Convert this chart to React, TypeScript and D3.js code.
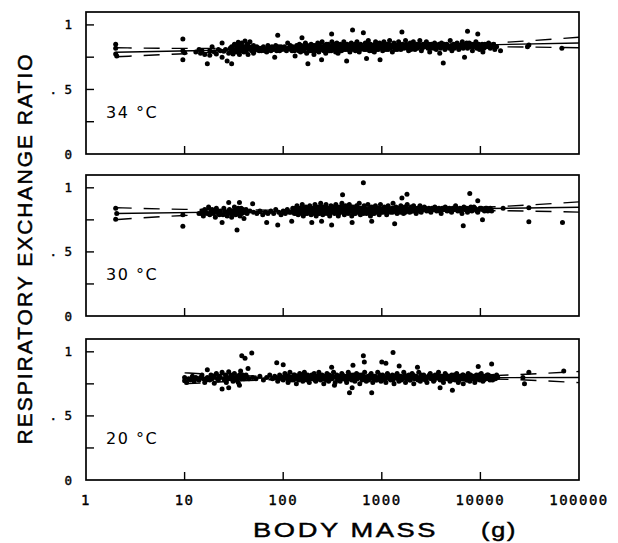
import React from "react";
import * as d3 from "d3";

// ---------- data ----------
const panelLabels = ["34 °C", "30 °C", "20 °C"];
const xTickValues = [1, 10, 100, 1000, 10000, 100000];
const xTickLabels = ["1", "10", "100", "1000", "10000", "100000"];
const yTickValues = [0.25, 0.5, 0.75, 1];
const yLabelValues = [0, 0.5, 1];
const yLabelTexts = ["0", ". 5", "1"];

const points34: [number, number][] = [
  [2, .85], [2, .82], [2, .775], [2.05, .76],
  [9.6, .89], [9.6, .80], [9.6, .73], [10, .785],
  [13, .79], [14, .81], [14.5, .78], [15, .80], [16, .77], [17, .70], [18, .80], [18, .765], [19, .83], [20, .79], [21, .775], [22, .81], [23, .80], [24, .86], [24, .75], [25, .795], [26, .81], [27, .72], [28, .78], [29, .82], [30, .70],
  [30, .80], [30, .83], [31, .775], [32, .79], [32, .85], [33, .81], [34, .82], [34, .79], [35, .865], [36, .84], [36, .77], [37, .80], [38, .81], [38, .86], [39, .83], [40, .79], [40, .83], [41, .875], [42, .80], [43, .85], [43, .81], [44, .77], [45, .83], [46, .82], [46, .87], [48, .80], [50, .78], [50, .84], [52, .82], [55, .81], [58, .82], [60, .80], [63, .83], [66, .81], [68, .79], [70, .84], [72, .82], [75, .80], [77, .83], [80, .81], [82, .75], [84, .84], [88, .92], [88, .815], [92, .80], [95, .83],
  [100, .82], [105, .81], [111, .86], [115, .82], [120, .81], [125, .83], [130, .80], [132, .76], [137, .84], [141, .82], [146, .85], [150, .79], [155, .90], [158, .83], [163, .81], [168, .86], [173, .78], [178, .70], [180, .83], [186, .80], [192, .85], [198, .82], [205, .77], [210, .84], [217, .81], [224, .86], [230, .79], [236, .83], [245, .73], [248, .87], [255, .81], [262, .84], [270, .78], [278, .82], [286, .85], [295, .80], [303, .83], [310, .93], [312, .87], [320, .81], [330, .84], [340, .79], [350, .86], [360, .78], [368, .82], [380, .85], [390, .80], [400, .84], [412, .87], [425, .81], [440, .72], [445, .85], [460, .83], [475, .79], [490, .86], [505, .96], [510, .82], [525, .84], [540, .80], [560, .87], [575, .82], [590, .79], [610, .85], [630, .83], [650, .94], [660, .81], [680, .86], [700, .74], [705, .83], [730, .88], [750, .80], [770, .85], [790, .82], [815, .84], [840, .79], [865, .87], [890, .83], [920, .81], [950, .86], [960, .73], [985, .84],
  [1020, .80], [1050, .87], [1080, .83], [1120, .85], [1160, .81], [1200, .88], [1240, .83], [1280, .79], [1330, .86], [1380, .84], [1430, .81], [1480, .87], [1530, .83], [1600, .945], [1620, .85], [1680, .82], [1740, .88], [1800, .84], [1870, .80], [1940, .86], [2010, .83], [2090, .87], [2170, .81], [2250, .85], [2340, .83], [2430, .88], [2520, .80], [2620, .85], [2720, .83], [2830, .87], [2940, .82], [3060, .79], [3180, .85], [3300, .83], [3430, .86], [3570, .81], [3720, .84], [3870, .78], [4030, .86], [4200, .705], [4200, .83], [4370, .81], [4550, .85], [4740, .83], [4940, .88], [5140, .80], [5350, .85], [5570, .83], [5800, .86], [6040, .81], [6290, .84], [6550, .87], [6900, .75], [6820, .83], [7100, .85], [7400, .95], [7400, .82], [7700, .86], [8000, .84], [8300, .80], [8650, .85], [9000, .87], [9400, .93], [9400, .83], [9800, .81],
  [10200, .84], [10600, .79], [11100, .85], [11600, .83], [12100, .86], [12600, .82], [13200, .84], [14000, .81], [14600, .83], [16000, .80], [30000, .83], [31000, .845], [67000, .82],
];
const points34Core: [number, number][] = [
  [31, .81], [33, .84], [35, .80], [37, .83], [39, .80], [41, .82], [44, .84], [47, .81], [49, .83], [51, .80], [54, .83], [57, .80], [61, .82], [65, .80], [69, .82], [74, .81], [79, .82], [86, .80], [90, .83], [97, .81],
  [103, .83], [108, .80], [113, .82], [118, .84], [123, .80], [128, .82], [134, .81], [139, .83], [144, .80], [148, .82], [153, .84], [161, .80], [166, .83], [171, .82], [176, .84], [183, .81], [189, .83], [195, .80], [201, .84], [207, .82], [214, .80], [220, .83], [227, .82], [233, .85], [240, .81], [251, .83], [258, .80], [266, .83], [274, .85], [282, .81], [290, .83], [299, .82], [307, .80], [316, .84], [325, .82], [335, .85], [345, .81], [355, .83], [364, .84], [374, .80], [385, .83], [395, .82], [406, .81], [418, .83], [432, .84], [452, .81], [467, .82], [482, .84], [497, .81], [517, .83], [532, .85], [550, .82], [568, .84], [583, .83], [600, .81], [620, .84], [640, .82], [670, .83], [692, .81], [715, .85], [740, .83], [760, .82], [780, .84], [800, .80], [827, .83], [852, .85], [877, .81], [905, .84], [935, .82], [970, .83],
  [1000, .85], [1035, .82], [1065, .84], [1100, .81], [1140, .83], [1180, .85], [1220, .82], [1260, .84], [1305, .83], [1355, .81], [1405, .84], [1455, .83], [1505, .85], [1560, .81], [1650, .84], [1710, .83], [1770, .85], [1835, .82], [1905, .84], [1975, .81], [2050, .85], [2130, .83], [2210, .84], [2295, .82], [2385, .85], [2475, .83], [2570, .82], [2670, .84], [2775, .85], [2885, .83], [3000, .85], [3120, .82], [3240, .84], [3365, .82], [3500, .84], [3645, .83], [3795, .85], [3950, .82], [4115, .84], [4285, .85], [4460, .83], [4645, .84], [4840, .82], [5040, .84], [5245, .83], [5460, .82], [5685, .85], [5920, .84], [6165, .83], [6420, .85], [6690, .82], [6960, .84], [7250, .86], [7550, .84], [7850, .83], [8150, .85], [8480, .83], [8820, .84], [9200, .82], [9600, .85],
  [10000, .83], [10400, .85], [10850, .82], [11350, .84], [11850, .85], [12350, .84], [12900, .83], [13600, .85],
];

const points30: [number, number][] = [
  [2, .84], [2, .755], [2.05, .80],
  [9.6, .70], [9.6, .79],
  [14, .80], [15, .82], [15.5, .78], [16, .83], [17, .80], [17.5, .85], [18, .79], [19, .83], [20, .81], [20.5, .77], [21, .84], [22, .80], [23, .82], [24, .73], [24.5, .79], [25, .84], [26, .81], [27, .78], [28, .885], [28.5, .83], [29, .80], [30, .77], [31, .82], [32, .85], [33, .79], [34, .67], [34.5, .81], [35, .84], [36, .885], [36.5, .78], [37, .82], [38, .80], [39, .83], [40, .76], [41, .81], [43, .80], [46, .82], [49, .875], [50, .81], [54, .80], [58, .82], [62, .79], [66, .81], [68, .73], [70, .80], [75, .82], [80, .80], [84, .83], [88, .71], [90, .81], [95, .79],
  [100, .82], [105, .80], [110, .83], [115, .81], [122, .74], [125, .84], [130, .80], [134, .82], [138, .86], [142, .79], [147, .84], [152, .81], [156, .87], [160, .78], [165, .83], [170, .85], [175, .80], [180, .82], [186, .86], [192, .79], [195, .73], [198, .84], [204, .81], [210, .87], [216, .78], [222, .83], [228, .85], [234, .80], [240, .88], [245, .74], [246, .82], [252, .79], [258, .85], [265, .82], [272, .87], [280, .80], [288, .84], [296, .78], [305, .86], [310, .71], [314, .82], [323, .85], [332, .80], [342, .87], [352, .83], [362, .78], [372, .85], [383, .81], [394, .88], [400, .945], [405, .82], [417, .79], [430, .86], [442, .83], [455, .80], [468, .87], [482, .82], [496, .78], [500, .73], [510, .85], [525, .83], [540, .80], [556, .86], [572, .82], [590, .88], [607, .79], [625, .84], [643, .81], [650, 1.04], [662, .86], [682, .83], [702, .80], [723, .87], [745, .82], [767, .78], [790, .74], [790, .85], [813, .83], [837, .80], [862, .86], [888, .82], [914, .84], [941, .79], [969, .87], [998, .83],
  [1030, .81], [1060, .85], [1090, .82], [1120, .79], [1160, .86], [1190, .83], [1230, .81], [1270, .84], [1300, .88], [1350, .72], [1350, .82], [1390, .85], [1430, .80], [1470, .84], [1520, .82], [1560, .86], [1600, .92], [1610, .83], [1660, .80], [1710, .85], [1760, .82], [1800, .95], [1810, .87], [1870, .83], [1920, .81], [1980, .85], [2040, .82], [2100, .86], [2170, .83], [2230, .80], [2300, .84], [2370, .82], [2440, .86], [2510, .81], [2590, .83], [2700, .85], [2850, .82], [3000, .84], [3150, .81], [3300, .83], [3450, .85], [3600, .82], [3800, .84], [4000, .80], [4200, .83], [4400, .85], [4600, .82], [4850, .84], [5100, .81], [5350, .83], [5600, .86], [5900, .82], [6200, .84], [6500, .80], [6700, .705], [6800, .85], [7100, .83], [7400, .81], [7800, .955], [7800, .84], [8200, .82], [8600, .85], [9000, .83], [9400, .90], [9400, .81], [9900, .84],
  [10500, .75], [10500, .83], [11000, .82], [11600, .84], [12200, .83], [13000, .82], [17000, .84], [31000, .845], [31000, .735], [68000, .73],
];
const points30Core: [number, number][] = [
  [15, .80], [16.5, .81], [18.5, .82], [19.5, .80], [21.5, .82], [22.5, .79], [25.5, .82], [27.5, .81], [29.5, .82], [31.5, .80], [33.5, .82], [35.5, .80], [37.5, .84], [39.5, .81], [42, .83],
  [120, .81], [127, .82], [132, .84], [136, .80], [140, .83], [145, .81], [150, .83], [154, .80], [158, .84], [163, .82], [168, .80], [172, .83], [178, .81], [183, .84], [189, .82], [195, .81], [201, .83], [207, .80], [213, .84], [219, .82], [225, .80], [231, .83], [237, .82], [243, .85], [249, .81], [255, .83], [261, .80], [268, .84], [276, .82], [284, .81], [292, .83], [300, .80], [309, .84], [318, .82], [327, .83], [337, .81], [347, .84], [357, .82], [367, .80], [377, .83], [388, .82], [399, .85], [411, .81], [423, .83], [436, .82], [448, .84], [461, .81], [475, .83], [489, .85], [503, .82], [517, .80], [532, .84], [548, .82], [564, .83], [581, .81], [598, .84], [616, .82], [634, .83], [653, .80], [672, .84], [692, .82], [712, .83], [734, .81], [756, .84], [778, .82], [801, .80], [825, .83], [850, .84], [875, .81], [901, .83], [927, .82], [955, .84], [983, .81],
  [1015, .83], [1045, .82], [1075, .84], [1105, .83], [1140, .81], [1175, .84], [1210, .82], [1250, .83], [1290, .81], [1330, .84], [1370, .83], [1410, .82], [1450, .84], [1495, .83], [1540, .81], [1585, .84], [1635, .82], [1685, .83], [1735, .81], [1785, .84], [1840, .82], [1895, .83], [1950, .84], [2010, .83], [2070, .82], [2135, .84], [2200, .83], [2265, .82], [2335, .84], [2405, .83], [2475, .82], [2550, .84], [2640, .83], [2770, .84], [2920, .83], [3070, .82], [3230, .84], [3380, .83], [3530, .84], [3700, .83], [3900, .82], [4100, .84], [4300, .83], [4500, .84], [4720, .83], [4980, .82], [5230, .84], [5480, .83], [5750, .84], [6050, .83], [6350, .82], [6650, .84], [6950, .83], [7250, .84], [7600, .83], [8000, .85], [8400, .83], [8800, .84], [9200, .82], [9650, .83],
  [10200, .84], [10800, .83], [11300, .84], [11900, .82], [12600, .84],
];

const points20: [number, number][] = [
  [10, .80], [10, .775], [10.5, .76], [11, .79], [12, .81], [12.5, .77], [13, .80], [14, .78], [15, .82], [15.5, .79], [16, .76], [17, .86], [17, .80], [18, .78], [18.5, .82], [19, .79], [20, .755], [20, .81], [21, .83], [22, .78], [23, .80], [24, .71], [24, .84], [25, .79], [26, .82], [26.5, .76], [27, .80], [28, .72], [28, .845], [29, .79], [30, .81], [31, .77], [32, .83], [33, .80], [34, .78], [35, .76], [36, .74], [36, .82], [37, .85], [38, .97], [38, .80], [40, .79], [41, .95], [42, .82], [44, .87], [45, .79], [48, .99], [49, .80], [53, .79], [58, .81], [63, .78], [68, .80], [73, .82], [78, .79], [82, .81], [86, .915], [88, .77], [92, .82], [96, .80],
  [100, .90], [100, .78], [104, .83], [108, .81], [112, .76], [117, .84], [121, .80], [126, .78], [131, .82], [136, .75], [141, .81], [147, .83], [152, .79], [158, .77], [164, .84], [170, .80], [177, .82], [184, .76], [191, .81], [198, .79], [206, .83], [214, .77], [222, .80], [230, .84], [239, .78], [248, .82], [258, .75], [268, .80], [278, .83], [289, .77], [300, .81], [310, .88], [312, .79], [324, .84], [331, .74], [337, .76], [350, .82], [364, .80], [378, .77], [393, .83], [408, .79], [424, .81], [440, .76], [457, .84], [470, .68], [475, .80], [494, .78], [500, .72], [510, .895], [513, .82], [533, .77], [554, .83], [576, .80], [598, .75], [621, .82], [645, .79], [650, .97], [665, .92], [670, .84], [696, .77], [723, .81], [751, .79], [780, .83], [790, .68], [810, .76], [842, .81], [875, .78], [909, .84], [944, .80], [981, .77],
  [1000, .92], [1020, .82], [1060, .79], [1100, .91], [1100, .76], [1140, .83], [1180, .80], [1230, .78], [1280, .82], [1300, .995], [1330, .75], [1380, .80], [1430, .83], [1490, .77], [1500, .89], [1550, .81], [1610, .79], [1670, .84], [1740, .76], [1810, .80], [1880, .82], [1950, .78], [2030, .83], [2110, .75], [2190, .81], [2280, .79], [2300, .88], [2370, .84], [2460, .77], [2560, .80], [2660, .82], [2760, .78], [2870, .76], [2980, .81], [3100, .83], [3220, .79], [3350, .77], [3480, .82], [3620, .80], [3760, .84], [3900, .72], [3910, .78], [4060, .81], [4220, .76], [4390, .83], [4560, .79], [4740, .81], [4920, .77], [5200, .70], [5120, .82], [5320, .80], [5530, .78], [5750, .83], [5970, .76], [6200, .81], [6450, .79], [6700, .75], [6700, .82], [6960, .80], [7230, .78], [7520, .83], [7810, .77], [8120, .81], [8440, .79], [8770, .76], [9110, .82], [9500, .885], [9470, .80], [9840, .78],
  [10200, .83], [10600, .77], [11000, .81], [11500, .79], [12000, .82], [12500, .78], [13000, .905], [13000, .80], [13500, .81], [14200, .79], [15000, .80], [27000, .80], [28000, .75], [31000, .84], [70000, .85],
];
const points20Core: [number, number][] = [
  [11.5, .78], [13.5, .79], [14.5, .80], [16.5, .78], [17.5, .79], [19.5, .80], [21.5, .79], [22.5, .81], [25.5, .78], [27.5, .79], [29.5, .82], [30.5, .79], [32.5, .78], [34.5, .81], [37.5, .79], [39, .82], [43, .80],
  [85, .80], [90, .79], [94, .81], [98, .79], [102, .80], [106, .82], [110, .79], [114, .81], [119, .78], [124, .80], [128, .82], [133, .79], [138, .81], [144, .78], [149, .80], [155, .82], [161, .79], [167, .81], [173, .78], [180, .80], [187, .79], [194, .82], [202, .80], [210, .78], [218, .81], [226, .79], [234, .82], [243, .80], [253, .79], [263, .81], [273, .78], [283, .80], [294, .82], [306, .79], [318, .81], [343, .80], [357, .78], [371, .81], [385, .79], [400, .82], [416, .80], [432, .78], [448, .81], [465, .79], [484, .82], [503, .80], [523, .78], [543, .81], [565, .79], [587, .82], [610, .80], [633, .78], [657, .81], [683, .79], [709, .80], [737, .78], [765, .82], [795, .80], [826, .79], [858, .81], [892, .78], [926, .80], [962, .82],
  [1000, .79], [1040, .81], [1080, .78], [1120, .80], [1160, .82], [1205, .79], [1255, .81], [1305, .78], [1355, .80], [1405, .82], [1460, .79], [1520, .81], [1580, .78], [1640, .80], [1705, .82], [1775, .79], [1845, .81], [1915, .78], [1990, .80], [2070, .82], [2150, .79], [2235, .81], [2325, .78], [2415, .80], [2510, .82], [2610, .79], [2710, .81], [2815, .78], [2925, .80], [3040, .82], [3160, .79], [3285, .81], [3415, .78], [3550, .80], [3690, .82], [3835, .79], [3985, .81], [4140, .78], [4305, .80], [4475, .82], [4650, .79], [4830, .81], [5020, .78], [5220, .80], [5430, .82], [5640, .79], [5860, .81], [6090, .78], [6330, .80], [6580, .82], [6830, .79], [7100, .81], [7380, .78], [7670, .80], [7960, .82], [8280, .79], [8600, .81], [8940, .78], [9290, .80], [9650, .82],
  [10000, .79], [10400, .81], [10800, .78], [11250, .80], [11700, .82], [12200, .79], [12700, .81], [13300, .78], [13900, .80], [14600, .82],
];

// regression lines (endpoints) and confidence bands
const fit34: [number, number][] = [[2, .788], [100000, .860]];
const fit30: [number, number][] = [[2, .800], [100000, .848]];
const fit20: [number, number][] = [[10, .794], [100000, .800]];

const band34Mass = [2, 10, 100, 1000, 10000, 100000];
const band34Upper = [.823, .818, .820, .833, .855, .905];
const band34Lower = [.753, .777, .806, .823, .831, .823];

const band30Mass = [2, 10, 100, 1000, 10000, 100000];
const band30Upper = [.845, .832, .826, .833, .848, .890];
const band30Lower = [.752, .784, .805, .817, .822, .810];

const band20Mass = [10, 30, 100, 1000, 10000, 100000];
const band20Upper = [.836, .818, .805, .803, .812, .847];
const band20Lower = [.750, .770, .785, .795, .790, .760];

const panels = [
  { label: panelLabels[0], points: points34.concat(points34Core), fit: fit34, bandMass: band34Mass, upper: band34Upper, lower: band34Lower },
  { label: panelLabels[1], points: points30.concat(points30Core), fit: fit30, bandMass: band30Mass, upper: band30Upper, lower: band30Lower },
  { label: panelLabels[2], points: points20.concat(points20Core), fit: fit20, bandMass: band20Mass, upper: band20Upper, lower: band20Lower },
];

// ---------- layout ----------
const W = 618;
const H = 543;
const X0 = 86;
const X1 = 579;
const panelTop = [12, 175, 339];
const panelBottom = [154, 316, 480];

const monoFont = "'DejaVu Sans Mono', 'Liberation Mono', monospace";
const titleFont = "'Liberation Sans', Arial, sans-serif";

export default function App() {
  const x = d3.scaleLog().domain([1, 100000]).range([X0, X1]);

  return (
    <div style={{ position: "absolute", left: 0, top: 0 }}>
      <svg width={W} height={H} viewBox={`0 0 ${W} ${H}`} style={{ display: "block", background: "#fff" }}>
        {panels.map((p, i) => {
          const y = d3.scaleLinear().domain([0, 1.1]).range([panelBottom[i], panelTop[i]]);
          const line = d3.line<[number, number]>().x(d => x(d[0])).y(d => y(d[1]));
          const bandLine = d3.line<[number, number]>().x(d => x(d[0])).y(d => y(d[1])).curve(d3.curveMonotoneX);
          const up = p.bandMass.map((m, k) => [m, p.upper[k]] as [number, number]);
          const lo = p.bandMass.map((m, k) => [m, p.lower[k]] as [number, number]);
          return (
            <g key={i}>
              <rect x={X0} y={panelTop[i]} width={X1 - X0} height={panelBottom[i] - panelTop[i]}
                fill="none" stroke="#000" strokeWidth={1.7} />
              {yTickValues.map(v => (
                <line key={v} x1={X0} x2={X0 + 8} y1={y(v)} y2={y(v)} stroke="#000" strokeWidth={1.4} />
              ))}
              {xTickValues.slice(1, 5).map(v => (
                <line key={v} x1={x(v)} x2={x(v)} y1={panelBottom[i]} y2={panelBottom[i] - 8} stroke="#000" strokeWidth={1.4} />
              ))}
              {yLabelValues.map((v, k) => (
                <text key={v} x={72} y={y(v)} dy="0.36em" textAnchor="end" stroke="#000" strokeWidth={0.4}
                  fontFamily={monoFont} fontSize={12.5} fill="#000">{yLabelTexts[k]}</text>
              ))}
              <text x={106} y={panelBottom[i] - 36} fontFamily="'DejaVu Sans', sans-serif"
                fontSize={16} letterSpacing={1.5} fill="#000">{p.label}</text>
              <path d={line(p.fit) || ""} fill="none" stroke="#000" strokeWidth={1.4} />
              <path d={bandLine(up) || ""} fill="none" stroke="#000" strokeWidth={1.4} strokeDasharray="16 12" />
              <path d={bandLine(lo) || ""} fill="none" stroke="#000" strokeWidth={1.4} strokeDasharray="16 12" />
              {p.points.map((d, k) => (
                <circle key={k} cx={x(d[0])} cy={y(d[1])} r={2.5} fill="#000" />
              ))}
            </g>
          );
        })}
        {xTickValues.map((v, k) => (
          <text key={v} x={x(v)} y={505} textAnchor="middle" fontFamily={monoFont} stroke="#000" strokeWidth={0.4}
            fontSize={14} letterSpacing={1.5} fill="#000">{xTickLabels[k]}</text>
        ))}
        <g transform="translate(253,537) scale(1.3,1)">
          <text x={0} y={0} fontFamily={titleFont} fontSize={21} letterSpacing={2} stroke="#000" strokeWidth={0.45} fill="#000">BODY MASS</text>
        </g>
        <g transform="translate(481,537) scale(1.2,1)">
          <text x={0} y={0} fontFamily={titleFont} fontSize={21} letterSpacing={1.5} stroke="#000" strokeWidth={0.45} fill="#000">(g)</text>
        </g>
        <text transform="translate(32,248.5) rotate(-90)" textAnchor="middle" fontFamily={titleFont} stroke="#000" strokeWidth={0.5}
          fontSize={21} letterSpacing={2} fill="#000">RESPIRATORY EXCHANGE RATIO</text>
      </svg>
    </div>
  );
}
